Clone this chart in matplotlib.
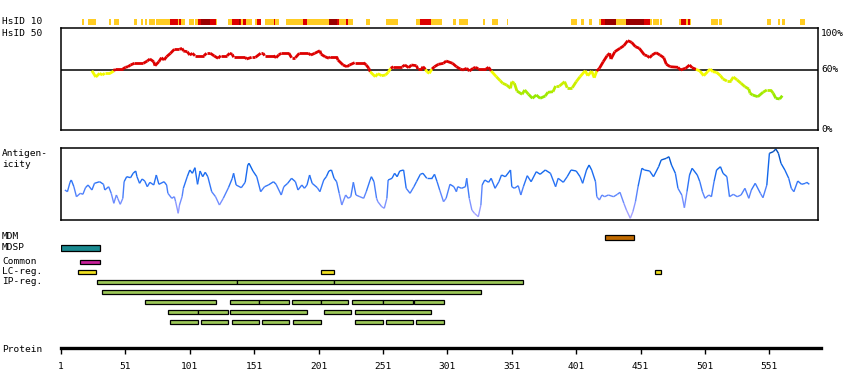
import matplotlib
matplotlib.use("Agg")
import matplotlib.pyplot as plt
import numpy as np
from matplotlib.collections import LineCollection
from matplotlib.colors import LinearSegmentedColormap

# protein length and tick positions
prot_len = 590
tick_pos = [1, 51, 101, 151, 201, 251, 301, 351, 401, 451, 501, 551]

# HsID 10 strip: (start, end, level)  level 1=orange, 2=red, 3=dark red
hsid10 = [(17, 19, 1), (22, 28, 1), (38, 40, 1), (42, 46, 1), (58, 60, 1), (63, 65, 1),
          (66, 68, 1), (69, 74, 1), (75, 86, 1), (86, 92, 2), (92, 93, 1), (93, 94, 2),
          (94, 97, 1), (100, 104, 1), (105, 107, 1), (107, 110, 2), (110, 117, 3),
          (117, 121, 2), (121, 122, 1), (131, 134, 1), (134, 139, 2), (139, 140, 3),
          (140, 141, 2), (141, 142, 1), (142, 145, 2), (145, 149, 1), (152, 153, 1),
          (153, 156, 2), (156, 156.5, 1), (159, 166, 1), (166, 167, 2), (167, 170, 1),
          (176, 189, 1), (189, 192, 2), (192, 209, 1), (209, 215, 3), (215, 217, 2),
          (217, 222, 1), (222, 224, 2), (224, 228, 1), (238, 241, 1), (253, 263, 1),
          (277, 280, 1), (280, 288, 2), (288, 297, 1), (305, 308, 1), (310, 317, 1),
          (329, 330, 1), (336, 340, 1), (347, 348, 1), (397, 402, 1), (405, 407, 1),
          (411, 413, 1), (419, 420, 1), (420, 423, 2), (423, 432, 3), (432, 440, 1),
          (440, 454, 3), (454, 458, 2), (458, 460, 1), (461, 465, 1), (466, 468, 1),
          (481, 482, 1), (482, 486, 2), (486, 488, 1), (488, 489, 2), (489, 490, 1),
          (506, 511, 1), (512, 514, 1), (549, 552, 1), (558, 559, 1), (561, 563, 1),
          (575, 579, 1)]

# HsID 50 identity curve (%): (residue, value)
hsid50 = [(25, 59.3), (28, 53), (31, 56.7), (33, 55), (35, 56.7), (39, 56.7), (42, 59),
          (43, 61), (49, 61), (51, 62.7), (53, 63.3), (55, 65), (58, 66.7), (65, 66.7),
          (68, 69), (70, 71), (73, 68.3), (74, 64.3), (77, 68.3), (79, 72.3), (81, 70),
          (83, 73.3), (86, 76.7), (89, 80.7), (93, 80.7), (95, 81.7), (96, 79), (99, 78.3),
          (101, 75), (103, 76.7), (105, 74.3), (112, 74.3), (114, 76.7), (117, 76.7),
          (120, 74), (123, 71.7), (125, 74.3), (130, 74.3), (132, 76.7), (134, 75.7),
          (135, 72.7), (144, 72.7), (145, 71), (149, 72.7), (152, 72.7), (156, 76.7),
          (158, 76.7), (159, 74.3), (166, 74.3), (168, 72.3), (170, 75), (172, 76.7),
          (178, 76.7), (180, 72.3), (183, 72.3), (186, 76.7), (193, 76.7), (195, 75),
          (198, 76.7), (202, 79.3), (203, 75.7), (206, 73.3), (209, 71.7), (210, 73.3),
          (215, 73.3), (216, 70), (220, 65), (223, 63.3), (225, 65), (229, 67.3),
          (236, 67.3), (238, 65), (240, 61.7), (241, 58.3), (245, 53.3), (247, 56.3),
          (250, 54.3), (253, 55), (255, 57.7), (257, 61.7), (259, 63.3), (266, 63.3),
          (268, 65), (271, 62.3), (273, 65), (277, 64.3), (278, 61), (281, 61),
          (282, 63.3), (284, 60.7), (285, 58.3), (287, 56.7), (289, 61), (291, 63.3),
          (294, 65.7), (298, 66.7), (300, 69), (305, 66.7), (308, 63.3), (311, 61),
          (313, 60), (316, 61.7), (318, 59), (321, 61.7), (323, 62.7), (325, 61),
          (331, 61), (333, 62.7), (335, 59), (339, 53.3), (342, 49.3), (344, 46.7),
          (347, 45), (350, 41.7), (351, 48.3), (353, 46.7), (355, 39), (359, 35.7),
          (361, 40), (364, 35.7), (367, 31.7), (370, 35), (373, 31.7), (377, 34),
          (379, 37.7), (383, 38.3), (385, 44), (388, 44), (392, 48.3), (394, 42.3),
          (398, 42.3), (401, 48.3), (404, 53.3), (408, 59.3), (410, 54.3), (413, 59),
          (415, 52.3), (417, 59), (419, 61.7), (422, 68.3), (425, 74.3), (427, 76.7),
          (428, 71), (431, 78.3), (435, 81.7), (438, 84.3), (441, 89.3), (444, 87.7),
          (447, 83.3), (450, 81.7), (454, 75), (456, 74.3), (458, 72.3), (460, 75),
          (463, 77.3), (466, 75), (469, 72.3), (471, 65.7), (474, 63.3), (480, 62.7),
          (482, 60), (484, 61), (486, 61.7), (489, 65), (491, 62.3), (494, 60.7),
          (497, 59), (500, 54.3), (503, 58.3), (505, 61), (507, 58.3), (510, 57.7),
          (513, 54.3), (515, 51), (518, 49), (521, 49), (523, 53), (526, 50),
          (529, 46.7), (532, 43.3), (535, 41), (536, 36.7), (538, 35), (542, 33.3),
          (546, 37.7), (549, 40), (552, 40), (554, 36.7), (556, 31.7), (559, 31),
          (561, 34.3)]

# antigenicity profile (arbitrary score): (residue, value)
antigen = [(4, 30), (6, 28.3), (8, 37.7), (9, 40), (11, 33.3), (13, 23.3), (16, 26.7),
           (18, 25.7), (20, 32.3), (22, 35), (25, 30), (27, 36.7), (31, 38.3), (34, 35.7),
           (35, 30), (38, 33.3), (40, 26.7), (42, 16.7), (44, 25), (45, 21.7), (47, 15.7),
           (49, 21.7), (50, 38.3), (52, 43.3), (55, 42.3), (57, 46.7), (59, 49), (60, 43.3),
           (62, 36.7), (64, 41), (66, 39), (68, 33.3), (70, 37.7), (73, 35), (75, 45),
           (77, 35.7), (81, 38.3), (83, 35), (84, 26.7), (87, 21.7), (89, 23.3), (90, 18.3),
           (92, 6.7), (93, 15), (95, 23.3), (96, 31.7), (99, 43.3), (101, 50), (103, 46.7),
           (105, 52.3), (107, 35.7), (109, 49), (111, 43.3), (113, 47.7), (115, 43.3),
           (118, 28.3), (121, 23.3), (124, 15), (127, 21.7), (131, 32.3), (134, 41.7),
           (135, 46.7), (137, 35), (141, 32.3), (144, 37.7), (146, 55), (147, 56.7),
           (150, 49), (153, 43.3), (156, 28.3), (159, 33.3), (162, 35), (166, 38.3),
           (168, 35.7), (172, 25), (174, 33.3), (177, 36.7), (180, 41.7), (183, 38.3),
           (185, 30), (188, 35), (190, 31.7), (192, 35), (194, 45), (196, 36.7),
           (200, 32.3), (202, 28.3), (205, 40), (207, 43.3), (209, 49), (211, 50),
           (213, 41.7), (215, 38.3), (217, 26.7), (219, 15), (222, 25), (224, 21.7),
           (226, 23.3), (228, 37.7), (230, 25), (233, 23.3), (236, 21.7), (238, 28.3),
           (241, 40), (242, 43.3), (244, 38.3), (246, 21.7), (247, 18.3), (250, 13.3),
           (252, 11.7), (254, 21.7), (255, 40), (258, 41.7), (260, 46.7), (262, 43.3),
           (264, 49), (267, 50), (269, 31.7), (272, 26.7), (275, 33.3), (277, 38.3),
           (280, 45.7), (282, 46.7), (285, 41.7), (289, 41.7), (291, 45.7), (293, 38.3),
           (295, 30), (298, 18.3), (300, 21.7), (303, 35.7), (306, 33.3), (308, 28.3),
           (309, 33.3), (312, 31.7), (315, 33.3), (316, 41.7), (318, 21.7), (320, 10),
           (322, 6.7), (325, 3.3), (327, 15), (328, 35), (330, 40), (333, 37.7),
           (335, 41.7), (338, 31.7), (341, 38.3), (343, 45), (346, 43.3), (350, 50),
           (351, 33.3), (353, 31.7), (356, 34.3), (358, 25), (360, 33.3), (363, 44.3),
           (366, 38.3), (370, 48.3), (373, 45.7), (377, 50), (381, 46.7), (385, 33.3),
           (387, 41.7), (391, 37.7), (394, 43.3), (397, 50), (401, 49), (404, 43.3),
           (406, 36.7), (409, 50), (411, 55), (413, 50), (416, 38.3), (417, 23.3),
           (419, 20), (421, 25), (423, 23.3), (426, 25), (430, 23.3), (433, 25.7),
           (435, 27.7), (438, 16.7), (440, 10), (443, 1.7), (445, 8.3), (447, 18.3),
           (449, 33.3), (452, 51.7), (454, 50), (458, 49), (461, 43.3), (465, 53.3),
           (467, 60), (471, 61.7), (473, 63.3), (475, 55), (478, 46.7), (480, 31.7),
           (483, 25), (485, 12.3), (487, 28.3), (489, 45), (491, 51.7), (495, 45),
           (497, 38.3), (499, 28.3), (501, 21.7), (504, 25), (506, 23.3), (508, 38.3),
           (510, 50), (513, 53.3), (515, 46.7), (518, 43.3), (520, 23.3), (523, 25.7),
           (526, 23.3), (529, 25), (532, 31.7), (535, 21.7), (537, 30), (540, 36.7),
           (544, 26.7), (546, 22.3), (549, 35), (551, 66.7), (554, 68.3), (556, 71),
           (558, 66.7), (560, 56.7), (563, 50), (566, 41.7), (568, 31.7), (570, 28.3),
           (573, 39), (576, 35.7), (579, 36.7), (580, 37.7), (582, 35.7)]

# feature rows: (start, end)
mdm = [(423, 446)]
mdsp = [(1, 31)]
common = [(16, 31)]
lc_reg = [(14, 28), (203, 213), (462, 467)]
ip_rows = [
    [(29, 138), (138, 213), (213, 360)],
    [(33, 327)],
    [(66, 121), (132, 155), (155, 178), (180, 203), (203, 224), (227, 251), (251, 274), (275, 298)],
    [(84, 107), (107, 131), (132, 192), (205, 226), (229, 288)],
    [(86, 107), (110, 131), (134, 155), (157, 178), (181, 203), (229, 251), (253, 274), (277, 298)],
]

W, H = 850, 390
px_res = 1.288          # pixels per residue
x0 = 61                 # pixel of residue 1
box_right = 818
box_xmax = 1 + (box_right - x0) / px_res
mono = "DejaVu Sans Mono"
fs = 6.8

fig = plt.figure(figsize=(W / 100, H / 100), dpi=100)


def add_ax(left, top, right, bottom):
    return fig.add_axes([left / W, 1 - bottom / H, (right - left) / W, (bottom - top) / H])


def label(x, y, s, ha="left"):
    fig.text(x / W, 1 - y / H, s, fontsize=fs, family=mono, ha=ha, va="center")


# ---- HsID 10 strip
ax10 = add_ax(x0, 19, box_right, 25)
ax10.set_xlim(1, box_xmax)
ax10.set_ylim(0, 1)
ax10.axis("off")
lev_col = {1: "#ffcc22", 2: "#dd0000", 3: "#990000"}
for s, e, lv in hsid10:
    ax10.barh(0.5, e - s, left=s, height=1, color=lev_col[lv], linewidth=0)

# ---- HsID 50 box
ax50 = add_ax(x0, 28, box_right, 130)
ax50.set_xlim(1, box_xmax)
ax50.set_ylim(0, 102)
ax50.set_xticks([])
ax50.set_yticks([])
for sp in ax50.spines.values():
    sp.set_linewidth(1.1)
ax50.axhline(60, color="black", lw=1.1, zorder=1)

hx = np.array([p for p, v in hsid50], dtype=float)
hy = np.array([v for p, v in hsid50], dtype=float)
seg = np.stack([np.column_stack([hx[:-1], hy[:-1]]), np.column_stack([hx[1:], hy[1:]])], axis=1)
ygcmap = LinearSegmentedColormap.from_list("yg", ["#88e800", "#c8ee00", "#ffff00"])
cols = []
for a, b in zip(hy[:-1], hy[1:]):
    m = (a + b) / 2
    if m >= 60:
        cols.append("#dd0000")
    else:
        cols.append(ygcmap(np.clip((m - 30) / 30, 0, 1)))
ax50.add_collection(LineCollection(seg, colors=cols, linewidths=2.0, capstyle="butt", zorder=2))

label(2, 22, "HsID 10")
label(2, 33, "HsID 50")
label(821, 33, "100%")
label(821, 70, "60%")
label(821, 130, "0%")

# ---- antigenicity box
axa = add_ax(x0, 148, box_right, 220)
axa.set_xlim(1, box_xmax)
axa.set_ylim(0, 72)
axa.set_xticks([])
axa.set_yticks([])
for sp in axa.spines.values():
    sp.set_linewidth(1.1)
ax_ = np.array([p for p, v in antigen], dtype=float)
ay_ = np.array([v for p, v in antigen], dtype=float)
seg2 = np.stack([np.column_stack([ax_[:-1], ay_[:-1]]), np.column_stack([ax_[1:], ay_[1:]])], axis=1)
bcmap = LinearSegmentedColormap.from_list("bl", ["#b4a8ff", "#7890ff", "#2f75f8", "#0a64e8", "#0048b0"])
cols2 = [bcmap(np.clip((a + b) / 2 / 72, 0, 1)) for a, b in zip(ay_[:-1], ay_[1:])]
axa.add_collection(LineCollection(seg2, colors=cols2, linewidths=1.0))

label(2, 153.5, "Antigen-")
label(2, 164, "icity")

# ---- feature bars
axb = add_ax(x0, 228, box_right, 330)
axb.set_xlim(1, box_xmax)
axb.set_ylim(330, 228)
axb.axis("off")


def bars(rows, yc, color, h=4.5):
    for s, e in rows:
        axb.barh(yc, e - s, left=s, height=h, color=color, edgecolor="black", linewidth=0.9)


bars(mdm, 237.7, "#c06a00")
bars(mdsp, 248, "#1a8a90", h=5.5)
bars(common, 262, "#c8209a")
bars(lc_reg, 272, "#f0e020")
for i, row in enumerate(ip_rows):
    bars(row, 282 + 10 * i, "#9cc858")

label(2, 237, "MDM")
label(2, 247, "MDSP")
label(2, 262, "Common")
label(2, 272, "LC-reg.")
label(2, 282, "IP-reg.")

# ---- protein axis
axp = add_ax(x0, 340, x0 + prot_len * px_res, 348)
axp.set_xlim(1, prot_len + 1)
axp.set_yticks([])
for k in ("top", "left", "right"):
    axp.spines[k].set_visible(False)
axp.spines["bottom"].set_linewidth(2.4)
axp.patch.set_alpha(0)
axp.set_xticks(tick_pos)
axp.set_xticklabels([str(t) for t in tick_pos], fontsize=fs, family=mono)
axp.tick_params(axis="x", length=4, width=1, pad=6)
label(2, 349, "Protein")

fig.savefig("out.png", dpi=100)
